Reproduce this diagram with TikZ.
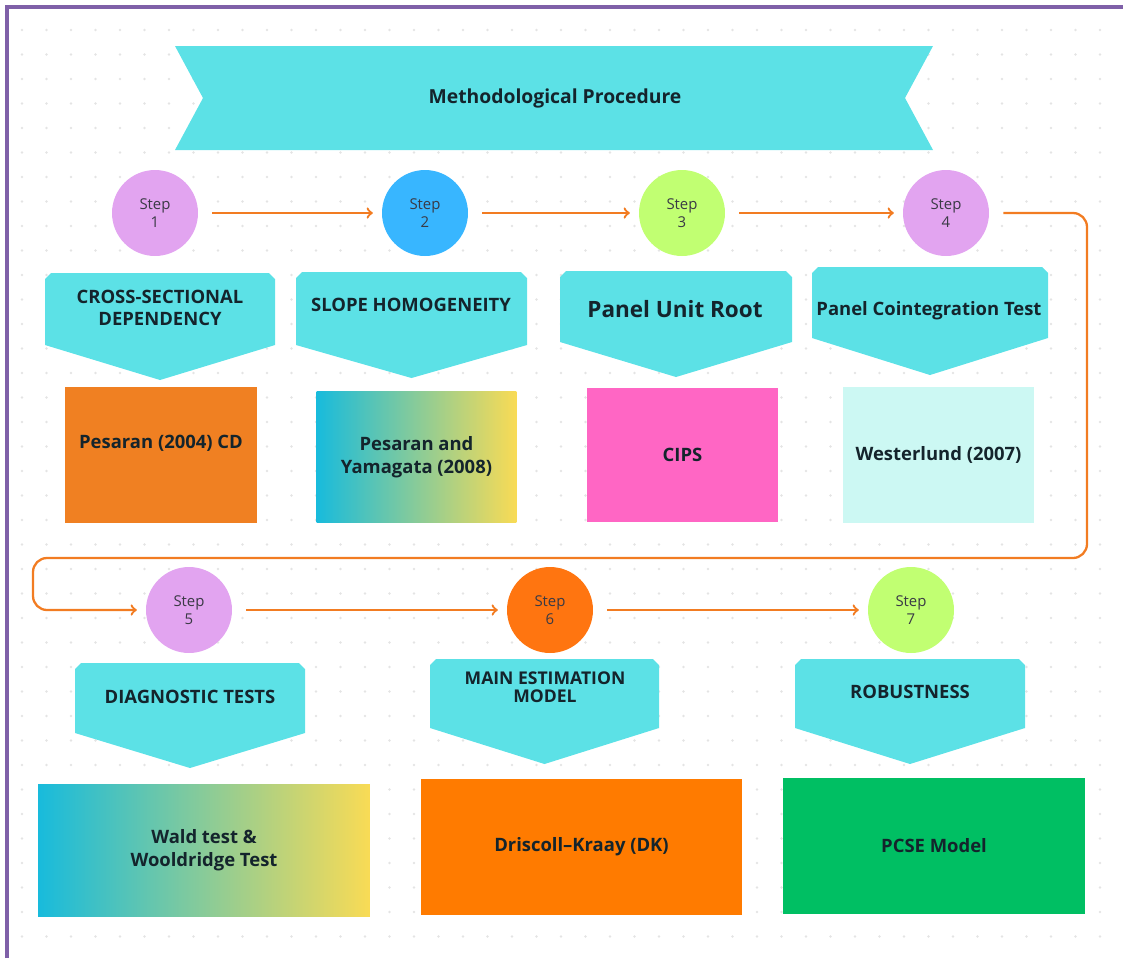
\documentclass[tikz,border=0pt]{standalone}
\usepackage{fontspec}
\setmainfont{Open Sans}
\usetikzlibrary{positioning}

\definecolor{bannercyan}{HTML}{5CE1E6}
\definecolor{lilac}{HTML}{E2A4F0}
\definecolor{skyblue}{HTML}{38B6FF}
\definecolor{lime}{HTML}{C1FF72}
\definecolor{stepor}{HTML}{FF7510}
\definecolor{flowor}{HTML}{F27C22}
\definecolor{boxor}{HTML}{F08022}
\definecolor{dkor}{HTML}{FF7B00}
\definecolor{pink}{HTML}{FF66C4}
\definecolor{mint}{HTML}{CCF8F3}
\definecolor{pcsegreen}{HTML}{00BF63}
\definecolor{gradcyan}{HTML}{18BBDC}
\definecolor{gradyellow}{HTML}{F9DB55}
\definecolor{frame}{HTML}{7F60A8}
\definecolor{darktext}{HTML}{14242C}
\definecolor{stepgray}{HTML}{3A3A45}
\definecolor{dotgray}{HTML}{E4E4E4}

\tikzset{
  stepcirc/.style={circle, minimum size=1.72cm, inner sep=0pt, align=center,
    font=\fontsize{8.5}{10}\selectfont, text=stepgray},
  chev/.style={fill=bannercyan},
  chevtext/.style={align=center, text=darktext,
    font=\bfseries\fontsize{10.5}{12.5}\selectfont},
  resbox/.style={rectangle, inner sep=0pt, align=center, text=darktext,
    font=\bfseries\fontsize{10.5}{13}\selectfont},
  flow/.style={draw=flowor, line width=1.3pt, ->, shorten <=8pt, shorten >=5pt}
}

% chevron: x left, x right, y top, y side, y point
\newcommand{\chevfill}[5]{%
  \pgfmathsetmacro{\chevmid}{(#1+#2)/2}
  \fill[chev] (#1,#4) -- (#1,#3+6) -- (#1+6,#3) -- (#2-6,#3) -- (#2,#3+6)
    -- (#2,#4) -- (\chevmid,#5) -- cycle;}

\begin{document}
\begin{tikzpicture}[x=0.02cm, y=-0.02cm]
\useasboundingbox (0,0) rectangle (1123,958);
% dotted paper
\foreach \x in {22,46.5,...,1110}
  \foreach \y in {30,54.5,...,950}
    \fill[dotgray] (\x,\y) circle (0.8pt);
\draw[frame, line width=2pt] (7,958) -- (7,7) -- (1123,7);

% banner
\fill[bannercyan] (175,46) -- (933,46) -- (905,98) -- (933,150) -- (175,150) -- (203,98) -- cycle;
\node[font=\bfseries\fontsize{11}{13}\selectfont, text=darktext] (title) at (555,98) {Methodological Procedure};

% steps
\node[stepcirc, fill=lilac] (step1) at (155,213) {Step\\1};
\node[stepcirc, fill=skyblue] (step2) at (425,213) {Step\\2};
\node[stepcirc, fill=lime] (step3) at (682,213) {Step\\3};
\node[stepcirc, fill=lilac] (step4) at (946,213) {Step\\4};
\node[stepcirc, fill=lilac] (step5) at (189,610) {Step\\5};
\node[stepcirc, fill=stepor] (step6) at (550,610) {Step\\6};
\node[stepcirc, fill=lime] (step7) at (911,610) {Step\\7};

% chevrons
\chevfill{45}{275}{273}{345}{380}
\chevfill{296}{527}{272}{345}{378}
\chevfill{560}{792}{271}{342}{377}
\chevfill{812}{1048}{267}{338}{375}
\chevfill{75}{305}{663}{733}{768}
\chevfill{430}{659}{659}{728}{764}
\chevfill{795}{1025}{659}{728}{764}

\node[chevtext] (csd) at (160,308) {CROSS-SECTIONAL\\DEPENDENCY};
\node[chevtext] (slope) at (411,305) {SLOPE HOMOGENEITY};
\node[chevtext, font=\bfseries\fontsize{12.8}{15}\selectfont] (unitroot) at (675,309) {Panel Unit Root};
\node[chevtext] (coint) at (929,311) {Panel Cointegration Test};
\node[chevtext] (diag) at (190,697) {DIAGNOSTIC TESTS};
\node[chevtext, font=\bfseries\fontsize{10}{10}\selectfont] (mainest) at (545,687) {MAIN ESTIMATION\\MODEL};
\node[chevtext] (robust) at (910,692) {ROBUSTNESS};

% results
\node[resbox, fill=boxor, minimum width=3.84cm, minimum height=2.72cm] (pesaran) at (161,455) {};
\node[resbox] (pesarantxt) at (161,443) {Pesaran (2004) CD};
\node[resbox, left color=gradcyan, right color=gradyellow, minimum width=4cm, minimum height=2.62cm] (pesyam) at (416.5,457) {Pesaran and\\Yamagata (2008)};
\node[resbox, fill=pink, minimum width=3.82cm, minimum height=2.7cm] (cips) at (682.5,455) {CIPS};
\node[resbox, fill=mint, minimum width=3.82cm, minimum height=2.72cm] (wester) at (938.5,455) {Westerlund (2007)};
\node[resbox, left color=gradcyan, right color=gradyellow, minimum width=6.64cm, minimum height=2.64cm] (wald) at (204,850) {Wald test \&\\Wooldridge Test};
\node[resbox, fill=dkor, minimum width=6.42cm, minimum height=2.72cm] (dk) at (581.5,847) {Driscoll–Kraay (DK)};
\node[resbox, fill=pcsegreen, minimum width=6.04cm, minimum height=2.72cm] (pcse) at (934,846) {PCSE Model};

% flow
\draw[flow] (step1) -- (step2);
\draw[flow] (step2) -- (step3);
\draw[flow] (step3) -- (step4);
\coordinate (loopR) at (1087,558);
\coordinate (loopL) at (33,558);
\draw[flow, rounded corners=8pt] (step4) -| (loopR) -- (loopL) |- (step5);
\draw[flow] (step5) -- (step6);
\draw[flow] (step6) -- (step7);
\end{tikzpicture}
\end{document}
